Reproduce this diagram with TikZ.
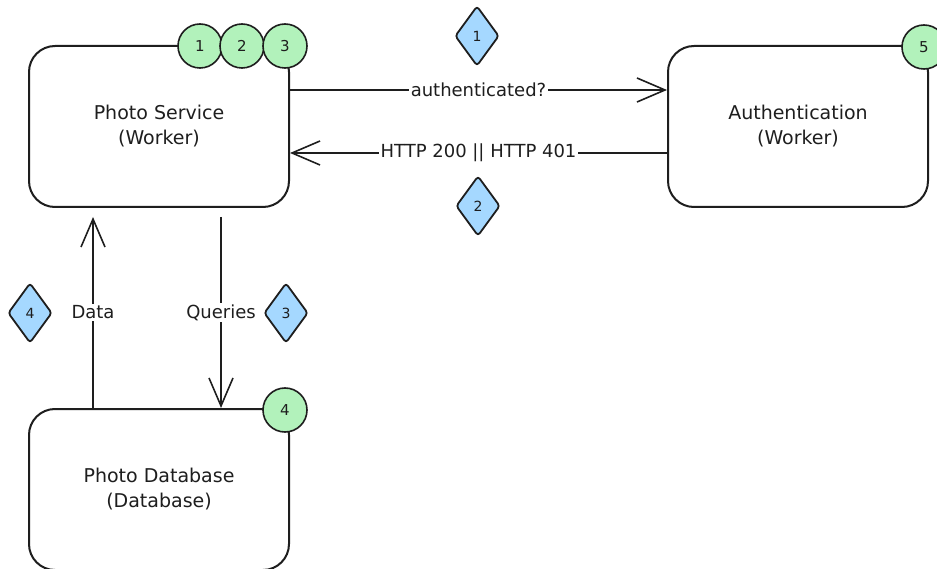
\documentclass[tikz,border=0pt]{standalone}
\usepackage{fontspec}
\setmainfont{DejaVu Sans}
\usetikzlibrary{arrows.meta,shapes.geometric}
\definecolor{badgegreen}{HTML}{B2F2BB}
\definecolor{stepblue}{HTML}{A5D8FF}
\definecolor{ink}{HTML}{1E1E1E}
\tikzset{
  svcbox/.style={draw=ink, line width=2pt, rounded corners=26pt, fill=white,
    minimum width=260pt, minimum height=161pt, align=center,
    font=\fontsize{19}{25}\selectfont, text=ink},
  badge/.style={circle, draw=ink, line width=1.6pt, fill=badgegreen,
    minimum size=44pt, inner sep=0pt, font=\fontsize{15}{15}\selectfont, text=ink},
  stepmark/.style={diamond, draw=ink, line width=1.8pt, fill=stepblue,
    rounded corners=3pt, minimum width=44pt, minimum height=60pt, inner sep=0pt,
    font=\fontsize{14}{14}\selectfont, text=ink},
  flow/.style={draw=ink, line width=1.6pt,
    -{Straight Barb[length=28pt,width=24pt,line width=1.6pt]}},
  flowlabel/.style={fill=white, inner sep=1.5pt, text=ink,
    font=\fontsize{18}{20}\selectfont}
}
\begin{document}
\begin{tikzpicture}[x=1pt, y=-1pt]
  \useasboundingbox (0,0) rectangle (937,569);

  % services
  \node[svcbox] (ps)   at (159,126.5) {Photo Service\\(Worker)};
  \node[svcbox] (auth) at (798,126.5) {Authentication\\(Worker)};
  \node[svcbox] (db)   at (159,489.5) {Photo Database\\(Database)};

  % request / response between the workers
  \draw[flow] (ps.east |- 0,90) -- node[flowlabel] {authenticated?} (auth.west |- 0,90);
  \draw[flow] (auth.west |- 0,153) -- node[flowlabel] {HTTP 200 || HTTP 401} (ps.east |- 0,153);

  % database traffic
  \coordinate (dataend) at (93,217);
  \coordinate (querystart) at (221,217);
  \draw[flow] (db.north -| dataend) -- node[flowlabel] {Data} (dataend);
  \draw[flow] (querystart) -- node[flowlabel] {Queries} (db.north -| querystart);

  % step markers
  \node[stepmark] (s1) at (477,36)  {1};
  \node[stepmark] (s2) at (478,206) {2};
  \node[stepmark] (s3) at (286,313) {3};
  \node[stepmark] (s4) at (30,313)  {4};

  % badges
  \node[badge] (b1) at (200,46)  {1};
  \node[badge] (b2) at (242,46)  {2};
  \node[badge] (b3) at (285,46)  {3};
  \node[badge] (b5) at (924,47)  {5};
  \node[badge] (b4) at (285,410) {4};
\end{tikzpicture}
\end{document}
